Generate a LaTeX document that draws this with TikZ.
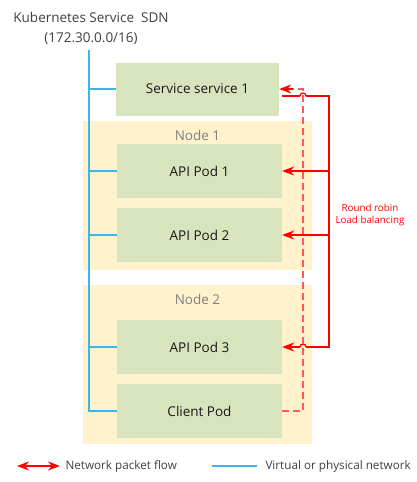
\documentclass[tikz,border=0pt]{standalone}
\usepackage{fontspec}
\setmainfont{Open Sans}
\usetikzlibrary{arrows.meta}

\definecolor{podgreen}{HTML}{D7E4BD}
\definecolor{nodebg}{HTML}{FFF2CC}
\definecolor{netblue}{HTML}{3DB4EA}
\definecolor{flowred}{HTML}{FF0000}
\definecolor{dashred}{HTML}{FF5A5A}
\definecolor{labelgray}{HTML}{808080}
\definecolor{titlegray}{HTML}{404040}

\tikzset{
  podbox/.style={rectangle, fill=podgreen, inner sep=0pt,
                 minimum width=165pt, minimum height=54pt},
  hostbox/.style={rectangle, fill=nodebg, inner sep=0pt,
                  minimum width=229pt},
  net/.style={netblue, line width=1.2pt},
  flow/.style={flowred, line width=1.3pt},
  flowdash/.style={dashred, line width=1.5pt, dash pattern=on 7pt off 4pt},
  boxtext/.style={font=\fontsize{13.5}{16}\selectfont, text=black!90}
}

\begin{document}
\begin{tikzpicture}[x=1pt,y=-1pt,>={Stealth[length=12pt,width=9pt]}]
  \useasboundingbox (0,0) rectangle (416,482);

  \node[align=center,
        text=titlegray,
        font=\fontsize{13.5}{20}\selectfont
        ] (title) at (91,28) {Kubernetes Service\ \ SDN\\(172.30.0.0/16)};

  % the two hosts
  \node[hostbox,
        minimum height = 149pt
        ] (node1) at (197.5,195.5) {};
  \node[text=labelgray, font=\fontsize{13.5}{16}\selectfont] (node1-l) at (197.5,135) {Node 1};

  \node[hostbox,
        minimum height = 159pt
        ] (node2) at (197.5,364.5) {};
  \node[text=labelgray, font=\fontsize{13.5}{16}\selectfont] (node2-l) at (197.5,299) {Node 2};

  % service and pods
  \node[podbox,
        minimum width = 163pt,
        minimum height = 53pt
        ] (svc) at (197.5,89) {};
  \node[boxtext] (svc-l) at (svc.center) {Service service 1};

  \node[podbox] (pod1) at (199.5,171) {};
  \node[boxtext] (pod1-l) at (pod1.center) {API Pod 1};

  \node[podbox] (pod2) at (199.5,235) {};
  \node[boxtext] (pod2-l) at (pod2.center) {API Pod 2};

  \node[podbox] (pod3) at (199.5,347) {};
  \node[boxtext] (pod3-l) at (pod3.center) {API Pod 3};

  \node[podbox] (client) at (199.5,411) {};
  \node[boxtext] (client-l) at (client.center) {Client Pod};

  % SDN bus
  \coordinate (bustop) at (89,50);
  \draw[net] (bustop) |- (client.west);
  \foreach \p in {svc,pod1,pod2,pod3}
    \draw[net] (bustop |- \p.west) -- (\p.west);

  % round robin from the service
  \coordinate (rr) at (329,96);
  \coordinate (dc) at (303,411);
  \coordinate (hop1) at (303,96);
  \coordinate (hop2) at (303,347);
  \draw[flow] ([xshift=3pt,yshift=-7pt]svc.east) -- ([xshift=-3pt]hop1);
  \draw[flow] ([xshift=-3pt]hop1) arc[start angle=180, end angle=360, radius=3];
  \draw[flow] ([xshift=3pt]hop1) -- (rr) -- (rr |- pod3.east) -- ([xshift=3pt]hop2);
  \draw[flow] ([xshift=3pt]hop2) arc[start angle=0, end angle=-180, radius=3];
  \draw[flow,->] ([xshift=-3pt]hop2) -- (pod3.east);
  \draw[flow,->] (rr |- pod1.east) -- (pod1.east);
  \draw[flow,->] (rr |- pod2.east) -- (pod2.east);

  % client to service
  \draw[flowdash] (client.east) -- (dc) -- (dc |- svc.east) -- ([xshift=14pt]svc.east);
  \draw[flow,->] ([xshift=14pt]svc.east) -- (svc.east);

  \node[text=flowred, align=center,
        font=\fontsize{9.8}{12.5}\selectfont
        ] (rrlabel) at (370,215) {Round robin\\Load balancing};

  % legend
  \coordinate (fa) at (17,466);
  \coordinate (fb) at (60,466);
  \draw[flow,<->] (fa) -- (fb);
  \node[anchor=west, text=titlegray, font=\fontsize{11.7}{14}\selectfont] (flowleg) at (62,466) {Network packet flow};

  \coordinate (na) at (212,466);
  \coordinate (nb) at (257,466);
  \draw[net] (na) -- (nb);
  \node[anchor=west, text=titlegray, font=\fontsize{11.7}{14}\selectfont] (netleg) at (262,466) {Virtual or physical network};

\end{tikzpicture}
\end{document}
